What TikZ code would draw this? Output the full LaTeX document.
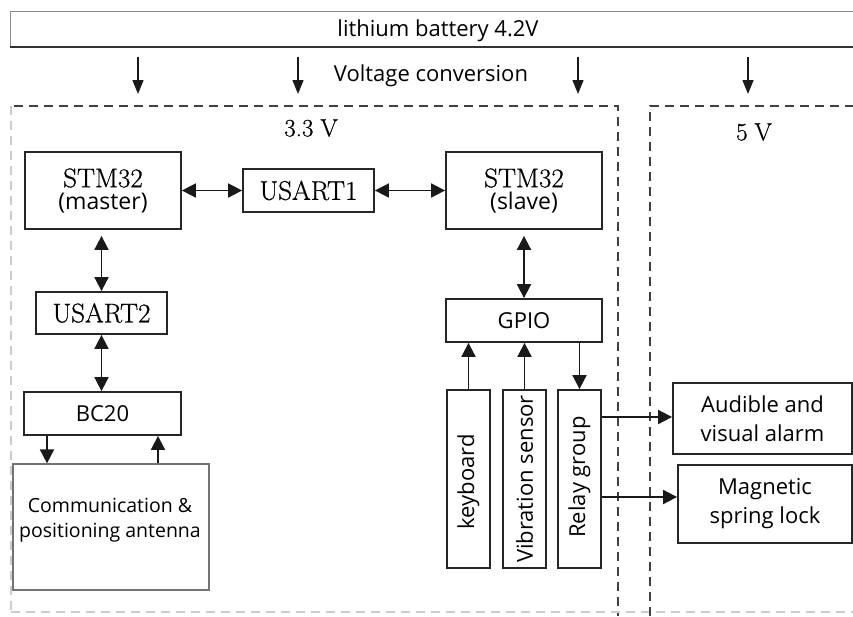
\documentclass[tikz,border=0pt]{standalone}
\usepackage{fontspec}
\setmainfont{Open Sans}
\newfontfamily\serifLM[FakeBold=0.7]{Latin Modern Roman}
\usetikzlibrary{arrows.meta}
\begin{document}
\begin{tikzpicture}[x=1pt,y=-1pt,
  box/.style={draw=black!85,line width=1.8pt,inner sep=0pt},
  sfont/.style={font=\fontsize{22}{29}\selectfont},
  rfont/.style={font=\serifLM\fontsize{27}{29}\selectfont},
  conn/.style={draw=black!90,line width=1.8pt},
  arr/.style={conn,-{Triangle[length=14pt,width=14pt]}},
  darr/.style={conn,{Triangle[length=14pt,width=14pt]}-{Triangle[length=14pt,width=14pt]}},
  thinarr/.style={draw=black!90,line width=1.4pt,-{Triangle[length=14pt,width=11pt]}},
  dsh/.style={draw=black!75,line width=1.8pt,dash pattern=on 9pt off 6pt},
  ldsh/.style={draw=black!20,line width=1.2pt,dash pattern=on 9pt off 6pt}]
\useasboundingbox (0,0) rectangle (853,616);
% battery bar
\draw[draw=black!45,line width=1pt] (860,11) -- (10,11) -- (10,47);
\draw[draw=black!80,line width=2.6pt] (10,47) -- (860,47);
\node[sfont] (bat) at (438,31) {lithium battery 4.2V};
% voltage conversion arrows
\coordinate (v1s) at (138,57); \coordinate (v1e) at (138,94);
\coordinate (v2s) at (298,57); \coordinate (v2e) at (298,94);
\coordinate (v3s) at (578,57); \coordinate (v3e) at (578,94);
\coordinate (v4s) at (748,57); \coordinate (v4e) at (748,94);
\foreach \i in {1,2,3,4} \draw[thinarr] (v\i s) -- (v\i e);
\node[sfont] (vc) at (431,76) {Voltage conversion};
% 3.3 V region
\draw[dsh] (14,106) -- (618,106) -- (618,616);
\draw[ldsh] (11,106) -- (11,612);
\draw[ldsh] (11,612) -- (853,612);
\node[font=\serifLM\fontsize{25}{28}\selectfont] (v33) at (311,128) {3.3\;V};
% 5 V region
\draw[dsh] (650,616) -- (650,106) -- (853,106);
\node[font=\serifLM\fontsize{25}{28}\selectfont] (v5) at (754,132) {5\;V};
% boxes
\node[box,minimum width=156pt,minimum height=77pt] (master) at (103,190.5) {};
\node[rfont] (mt1) at (103,178) {STM32};
\node[font=\fontsize{23}{26}\selectfont] (mt2) at (103,203) {(master)};
\node[box,rfont,minimum width=131pt,minimum height=43pt] (usart1) at (308.5,190.5) {USART1};
\node[box,minimum width=156pt,minimum height=77pt] (slave) at (524,190.5) {};
\node[rfont] (st1) at (524,178) {STM32};
\node[font=\fontsize{23}{26}\selectfont] (st2) at (524,203) {(slave)};
\node[box,rfont,minimum width=131pt,minimum height=42pt] (usart2) at (101.5,313) {USART2};
\node[box,sfont,minimum width=157pt,minimum height=43pt] (bc20) at (102.5,413.5) {BC20};
\node[draw=black!55,line width=1.2pt,minimum width=196pt,minimum height=126pt,inner sep=0pt] (ant) at (111,527) {};
\node[font=\fontsize{19.5}{25}\selectfont,align=center] (antt) at (110,520) {Communication \&\\positioning antenna};
\node[box,sfont,minimum width=156pt,minimum height=43pt] (gpio) at (524,320.5) {GPIO};
\node[box,minimum width=43pt,minimum height=178pt] (kb) at (468.5,479) {};
\node[sfont,rotate=90] (kbt) at (468.5,482) {keyboard};
\node[box,minimum width=43pt,minimum height=178pt] (vib) at (524.5,479) {};
\node[sfont,rotate=90] (vibt) at (524.5,479) {Vibration sensor};
\node[box,minimum width=43pt,minimum height=178pt] (relay) at (579.5,479) {};
\node[sfont,rotate=90] (relayt) at (579.5,477) {Relay group};
\node[box,sfont,minimum width=179pt,minimum height=71pt,align=center] (alarm) at (762.5,418.5) {Audible and\\visual alarm};
\node[box,sfont,minimum width=174pt,minimum height=78pt,align=center] (lock) at (765,504) {Magnetic\\spring lock};
% connectors
\draw[darr] (master.east) -- (usart1.west);
\draw[darr] (usart1.east) -- (slave.west);
\draw[darr] ([yshift=-6pt]master.south -| usart2.north) -- (usart2.north);
\draw[darr] (usart2.south) -- (bc20.north -| usart2.south);
\draw[darr] ([yshift=-6pt]slave.south) -- (gpio.north);
\draw[arr] (bc20.south -| 47,0) -- (ant.north -| 47,0);
\draw[arr] (ant.north -| 158,0) -- (bc20.south -| 158,0);
\draw[arr] (kb.north) -- (gpio.south -| kb.north);
\draw[arr] (vib.north) -- (gpio.south -| vib.north);
\draw[arr] (gpio.south -| relay.north) -- (relay.north);
\draw[arr] (relay.north east |- 0,417) -- (alarm.west |- 0,417);
\draw[arr] (relay.north east |- 0,497) -- (lock.west |- 0,497);
\end{tikzpicture}
\end{document}
